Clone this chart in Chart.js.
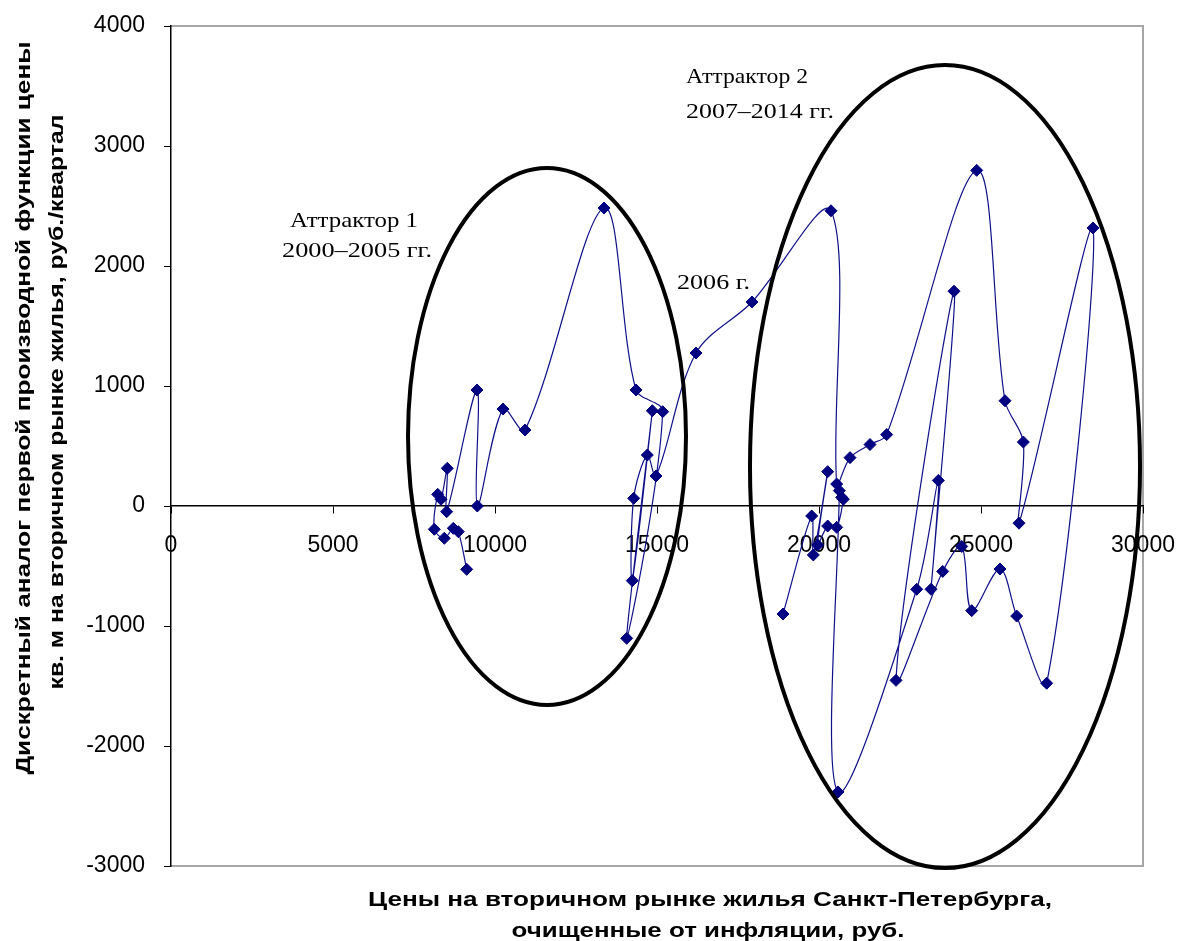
<!DOCTYPE html>
<html>
<head>
<meta charset="utf-8">
<script src="https://cdn.jsdelivr.net/npm/chart.js@4/dist/chart.umd.min.js"></script>
<style>
html,body{margin:0;padding:0;background:#fff;}
#wrap{width:1181px;height:941px;position:relative;}
</style>
</head>
<body>
<div id="wrap"><canvas id="c" width="1181" height="941"></canvas></div>
<script>
// ---- data ----
const priceX = [9126, 8868, 8714, 8435, 8127, 8231, 8333, 8528, 8509, 9444, 9455, 10247, 10926, 13364,
  14352, 15175, 14065, 14856, 14238, 14280, 14701, 14969,
  16204, 17932,
  20370, 20546, 20957, 21574, 22089, 24867, 25741, 26307, 26173, 28457,
  27027, 26101, 25586, 24713, 24404, 23818, 22377, 24167, 23457, 23683, 23015,
  20586, 20627, 20700, 20750, 20546, 20268, 19959, 20268, 19824, 19774, 18889];
const derivY = [-528, -214, -186, -269, -194, 97, 56, 314, -47, 967, 0, 808, 633, 2483,
  967, 786, -1103, 794, -622, 64, 425, 250,
  1275, 1700,
  2460, 183, 403, 512, 595, 2797, 877, 533, -143, 2317,
  -1477, -917, -525, -872, -337, -545, -1453, 1790, -694, 213, -694,
  -2383, 128, 72, 56, -178, -167, -325, 286, -408, -83, -900];
const xTickValues = [0, 5000, 10000, 15000, 20000, 25000, 30000];
const yTickValues = [-3000, -2000, -1000, 0, 1000, 2000, 3000, 4000];
const xTitleLines = ['Цены на вторичном рынке жилья Санкт-Петербурга,', 'очищенные от инфляции, руб.'];
const yTitleLines = ['Дискретный аналог первой производной функции цены', 'кв. м на вторичном рынке жилья, руб./квартал'];
const noteTexts = ['Аттрактор 1', '2000–2005 гг.', 'Аттрактор 2', '2007–2014 гг.', '2006 г.'];

const points = priceX.map((x, i) => ({x: x, y: derivY[i]}));

function fitText(ctx, txt, x, y, font, w, rot, align) {
  ctx.save();
  ctx.font = font;
  const m = ctx.measureText(txt).width;
  const s = w / m;
  ctx.translate(x, y);
  if (rot) ctx.rotate(rot);
  ctx.scale(s, 1);
  ctx.textAlign = align || 'center';
  ctx.textBaseline = 'middle';
  ctx.fillStyle = '#000';
  ctx.fillText(txt, 0, 0);
  ctx.restore();
}

const decor = {
  id: 'decor',
  beforeDraw(chart) {
    const {ctx, chartArea: a} = chart;
    ctx.save();
    ctx.fillStyle = '#fff';
    ctx.fillRect(0, 0, chart.width, chart.height);
    ctx.strokeStyle = '#a6a6a6';
    ctx.lineWidth = 2;
    ctx.beginPath();
    ctx.moveTo(a.left, a.top);
    ctx.lineTo(a.right, a.top);
    ctx.lineTo(a.right, a.bottom);
    ctx.lineTo(a.left, a.bottom);
    ctx.stroke();
    ctx.restore();
  },
  afterDatasetsDraw(chart, args, opts) {
    const {ctx} = chart;
    const xs = chart.scales.x, ys = chart.scales.y;
    ctx.save();
    ctx.strokeStyle = '#000';
    ctx.lineWidth = 4;
    opts.ellipses.forEach(e => {
      const cx = xs.getPixelForValue(e.cx), cy = ys.getPixelForValue(e.cy);
      const rx = Math.abs(xs.getPixelForValue(e.cx + e.rx) - cx);
      const ry = Math.abs(ys.getPixelForValue(e.cy + e.ry) - cy);
      ctx.beginPath();
      ctx.ellipse(cx, cy, rx, ry, 0, 0, Math.PI * 2);
      ctx.stroke();
    });
    ctx.restore();
    opts.notes.forEach(n => {
      fitText(ctx, noteTexts[n.i], xs.getPixelForValue(n.x), ys.getPixelForValue(n.y),
        '21px "Liberation Serif"', n.w, 0, 'left');
    });
  },
  afterDraw(chart) {
    const {ctx} = chart;
    const f = 'bold 20px "Liberation Sans"';
    fitText(ctx, yTitleLines[0], 24, 408, f, 733, -Math.PI / 2);
    fitText(ctx, yTitleLines[1], 57, 402, f, 575, -Math.PI / 2);
    fitText(ctx, xTitleLines[0], 710, 900, f, 684, 0);
    fitText(ctx, xTitleLines[1], 708, 931, f, 393, 0);
  }
};

new Chart(document.getElementById('c'), {
  type: 'scatter',
  data: {
    datasets: [{
      data: points,
      showLine: true,
      tension: 0.33,
      borderColor: '#10108a',
      borderWidth: 1.2,
      pointStyle: 'rectRot',
      pointRadius: 6,
      pointBackgroundColor: '#000080',
      pointBorderColor: '#000080',
      pointBorderWidth: 1
    }]
  },
  options: {
    responsive: false,
    animation: false,
    devicePixelRatio: 1,
    layout: {padding: {left: 0, top: 26, right: 38, bottom: 75}},
    plugins: {
      legend: {display: false},
      tooltip: {enabled: false},
      decor: {
        ellipses: [
          {cx: 11605, cy: 579, rx: 4290, ry: 2237},
          {cx: 23889, cy: 329, rx: 6019, ry: 3346}
        ],
        notes: [
          {i: 0, x: 3673, y: 2375, w: 128},
          {i: 1, x: 3426, y: 2125, w: 150},
          {i: 2, x: 15895, y: 3567, w: 122},
          {i: 3, x: 15895, y: 3283, w: 148},
          {i: 4, x: 15617, y: 1858, w: 73}
        ]
      }
    },
    scales: {
      x: {
        type: 'linear',
        min: 0, max: 30000,
        position: {y: 0},
        afterBuildTicks: s => { s.ticks = xTickValues.map(v => ({value: v})); },
        afterFit: s => { s.height = 0; s.paddingLeft = 0; s.paddingRight = 0; s.paddingTop = 0; s.paddingBottom = 0; },
        grid: {drawOnChartArea: false, drawTicks: true, tickLength: 7, color: '#000', lineWidth: 1},
        border: {display: true, color: '#000', width: 1.5},
        ticks: {font: {family: 'Liberation Sans', size: 23}, color: '#000', padding: 19, maxRotation: 0, autoSkip: false,
          callback: v => String(v)}
      },
      y: {
        type: 'linear',
        min: -3000, max: 4000,
        position: 'left',
        afterBuildTicks: s => { s.ticks = yTickValues.map(v => ({value: v})); },
        afterFit: s => { s.width = 171; s.paddingTop = 0; s.paddingBottom = 0; s.paddingLeft = 0; s.paddingRight = 0; },
        grid: {drawOnChartArea: false, drawTicks: true, tickLength: 7, color: '#000', lineWidth: 1},
        border: {display: true, color: '#000', width: 1.5},
        ticks: {font: {family: 'Liberation Sans', size: 23}, color: '#000', padding: 19,
          callback: v => String(v)}
      }
    }
  },
  plugins: [decor]
});
</script>
</body>
</html>
